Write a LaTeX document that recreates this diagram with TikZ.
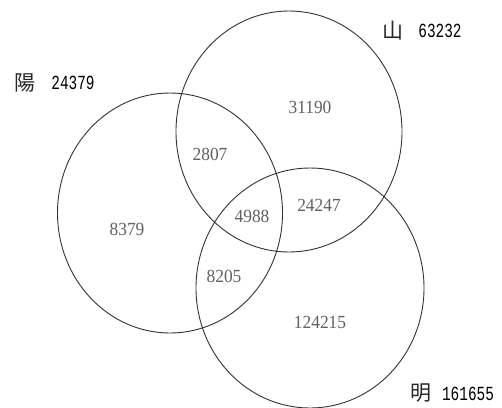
\documentclass[tikz,border=0pt]{standalone}
\usepackage{fontspec}
\setmainfont{Liberation Serif}
\newfontfamily\cjk{Noto Sans CJK TC}
\newfontfamily\labfont{Liberation Mono}
\begin{document}
\begin{tikzpicture}[x=1pt,y=-1pt,
  ring/.style={draw=black!80,line width=0.9pt},
  cnt/.style={text=black!62,font=\fontsize{18.5}{18.5}\selectfont,inner sep=0pt,xscale=0.94},
  setnum/.style={text=black,font=\fontsize{20}{20}\selectfont\labfont,inner sep=0pt,xscale=0.72},
  setch/.style={text=black!85,font=\fontsize{21}{21}\selectfont\cjk,inner sep=0pt}]
\useasboundingbox (0,0) rectangle (502,407);
\fill[white] (0,0) rectangle (502,407);
\draw[ring] (170,213) ellipse [x radius=112.5, y radius=120];
\draw[ring] (289,131.5) ellipse [x radius=113, y radius=120.5];
\draw[ring] (310,288) ellipse [x radius=114, y radius=120];
\node[setch] (yangch) at (25,83) {陽};
\node[setnum] (yangnum) at (73,83) {24379};
\node[setch] (shanch) at (393,31) {山};
\node[setnum] (shannum) at (440,31) {63232};
\node[setch] (mingch) at (421,393) {明};
\node[setnum] (mingnum) at (468,394) {161655};
\node[cnt] (a) at (310,107) {31190};
\node[cnt] (b) at (210,154) {2807};
\node[cnt] (c) at (252,216) {4988};
\node[cnt] (d) at (319,205) {24247};
\node[cnt] (e) at (127,229) {8379};
\node[cnt] (f) at (224,276) {8205};
\node[cnt] (g) at (320,322) {124215};
\end{tikzpicture}
\end{document}
